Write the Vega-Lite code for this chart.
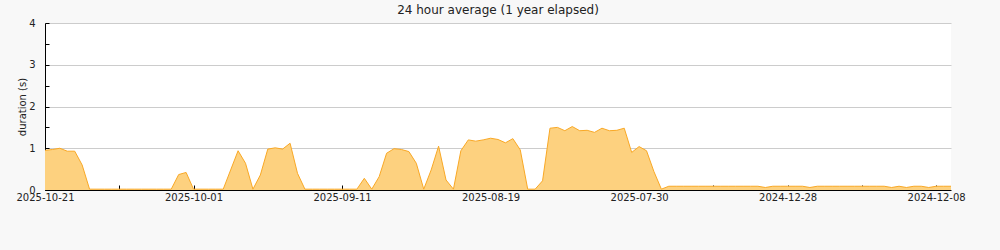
{
  "$schema": "https://vega.github.io/schema/vega-lite/v6.json",
  "width": 906,
  "height": 167,
  "autosize": {"type": "none"},
  "padding": {"left": 45, "top": 23, "right": 49, "bottom": 60},
  "background": "#f8f8f8",
  "config": {"view": {"stroke": null, "fill": "white"}, "font": "DejaVu Sans"},
  "title": {"text": "24 hour average (1 year elapsed)", "fontSize": 12, "fontWeight": "normal", "color": "#222222", "font": "DejaVu Sans", "offset": 1},
  "data": {"values": [
    {"i":0,"duration":0.95},{"i":1,"duration":0.97},{"i":2,"duration":1.0},{"i":3,"duration":0.93},{"i":4,"duration":0.93},
    {"i":5,"duration":0.6},{"i":6,"duration":0.02},{"i":7,"duration":0.02},{"i":8,"duration":0.02},{"i":9,"duration":0.02},
    {"i":10,"duration":0.02},{"i":11,"duration":0.02},{"i":12,"duration":0.02},{"i":13,"duration":0.02},{"i":14,"duration":0.02},
    {"i":15,"duration":0.02},{"i":16,"duration":0.02},{"i":17,"duration":0.02},{"i":18,"duration":0.37},{"i":19,"duration":0.42},
    {"i":20,"duration":0.02},{"i":21,"duration":0.02},{"i":22,"duration":0.02},{"i":23,"duration":0.02},{"i":24,"duration":0.02},
    {"i":25,"duration":0.48},{"i":26,"duration":0.94},{"i":27,"duration":0.64},{"i":28,"duration":0.02},{"i":29,"duration":0.36},
    {"i":30,"duration":0.98},{"i":31,"duration":1.01},{"i":32,"duration":0.98},{"i":33,"duration":1.12},{"i":34,"duration":0.4},
    {"i":35,"duration":0.02},{"i":36,"duration":0.02},{"i":37,"duration":0.02},{"i":38,"duration":0.02},{"i":39,"duration":0.02},
    {"i":40,"duration":0.02},{"i":41,"duration":0.02},{"i":42,"duration":0.02},{"i":43,"duration":0.28},{"i":44,"duration":0.02},
    {"i":45,"duration":0.32},{"i":46,"duration":0.88},{"i":47,"duration":0.99},{"i":48,"duration":0.97},{"i":49,"duration":0.92},
    {"i":50,"duration":0.64},{"i":51,"duration":0.02},{"i":52,"duration":0.48},{"i":53,"duration":1.05},{"i":54,"duration":0.24},
    {"i":55,"duration":0.02},{"i":56,"duration":0.94},{"i":57,"duration":1.2},{"i":58,"duration":1.17},{"i":59,"duration":1.2},
    {"i":60,"duration":1.24},{"i":61,"duration":1.21},{"i":62,"duration":1.13},{"i":63,"duration":1.23},{"i":64,"duration":0.96},
    {"i":65,"duration":0.02},{"i":66,"duration":0.02},{"i":67,"duration":0.22},{"i":68,"duration":1.48},{"i":69,"duration":1.5},
    {"i":70,"duration":1.42},{"i":71,"duration":1.52},{"i":72,"duration":1.42},{"i":73,"duration":1.43},{"i":74,"duration":1.38},
    {"i":75,"duration":1.48},{"i":76,"duration":1.42},{"i":77,"duration":1.43},{"i":78,"duration":1.48},{"i":79,"duration":0.9},
    {"i":80,"duration":1.04},{"i":81,"duration":0.94},{"i":82,"duration":0.44},{"i":83,"duration":0.02},{"i":84,"duration":0.09},
    {"i":85,"duration":0.09},{"i":86,"duration":0.09},{"i":87,"duration":0.09},{"i":88,"duration":0.09},{"i":89,"duration":0.09},
    {"i":90,"duration":0.09},{"i":91,"duration":0.09},{"i":92,"duration":0.09},{"i":93,"duration":0.09},{"i":94,"duration":0.09},
    {"i":95,"duration":0.09},{"i":96,"duration":0.09},{"i":97,"duration":0.06},{"i":98,"duration":0.09},{"i":99,"duration":0.09},
    {"i":100,"duration":0.09},{"i":101,"duration":0.09},{"i":102,"duration":0.09},{"i":103,"duration":0.06},{"i":104,"duration":0.09},
    {"i":105,"duration":0.09},{"i":106,"duration":0.09},{"i":107,"duration":0.09},{"i":108,"duration":0.09},{"i":109,"duration":0.09},
    {"i":110,"duration":0.09},{"i":111,"duration":0.09},{"i":112,"duration":0.09},{"i":113,"duration":0.09},{"i":114,"duration":0.06},
    {"i":115,"duration":0.09},{"i":116,"duration":0.06},{"i":117,"duration":0.09},{"i":118,"duration":0.09},{"i":119,"duration":0.06},
    {"i":120,"duration":0.09},{"i":121,"duration":0.09},{"i":122,"duration":0.09}
  ]},
  "encoding": {
    "x": {
      "field": "i", "type": "quantitative",
      "scale": {"domain": [0, 122], "nice": false, "zero": false},
      "axis": {
        "title": null,
        "values": [0,10,20,30,40,50,60,70,80,90,100,110,120],
        "labelExpr": "datum.value==0?'2025-10-21':datum.value==20?'2025-10-01':datum.value==40?'2025-09-11':datum.value==60?'2025-08-19':datum.value==80?'2025-07-30':datum.value==100?'2024-12-28':datum.value==120?'2024-12-08':''",
        "grid": false,
        "tickSize": -5,
        "tickColor": "#000000",
        "domainColor": "#000000",
        "labelPadding": 7,
        "labelFlush": false,
        "labelOverlap": false,
        "labelFontSize": 10,
        "labelColor": "#222222",
        "labelFont": "DejaVu Sans"
      }
    },
    "y": {
      "field": "duration", "type": "quantitative",
      "scale": {"domain": [0, 4], "nice": false},
      "axis": {
        "title": "duration (s)",
        "titleFontSize": 10,
        "titleFontWeight": "normal",
        "titleColor": "#222222",
        "titleFont": "DejaVu Sans",
        "titlePadding": 1,
        "values": [0,0.5,1,1.5,2,2.5,3,3.5,4],
        "labelExpr": "datum.value % 1 == 0 ? format(datum.value, 'd') : ''",
        "grid": true,
        "gridColor": "#cccccc",
        "gridOpacity": {"condition": {"test": "datum.value % 1 != 0 || datum.value == 0", "value": 0}, "value": 1},
        "tickSize": -4,
        "tickColor": "#000000",
        "domainColor": "#000000",
        "labelPadding": 14,
        "labelFontSize": 10,
        "labelColor": "#222222",
        "labelFont": "DejaVu Sans"
      }
    }
  },
  "layer": [
    {"mark": {"type": "area", "color": "#fdd17f", "opacity": 1}},
    {"mark": {"type": "line", "color": "#f9a825", "strokeWidth": 1}}
  ]
}
